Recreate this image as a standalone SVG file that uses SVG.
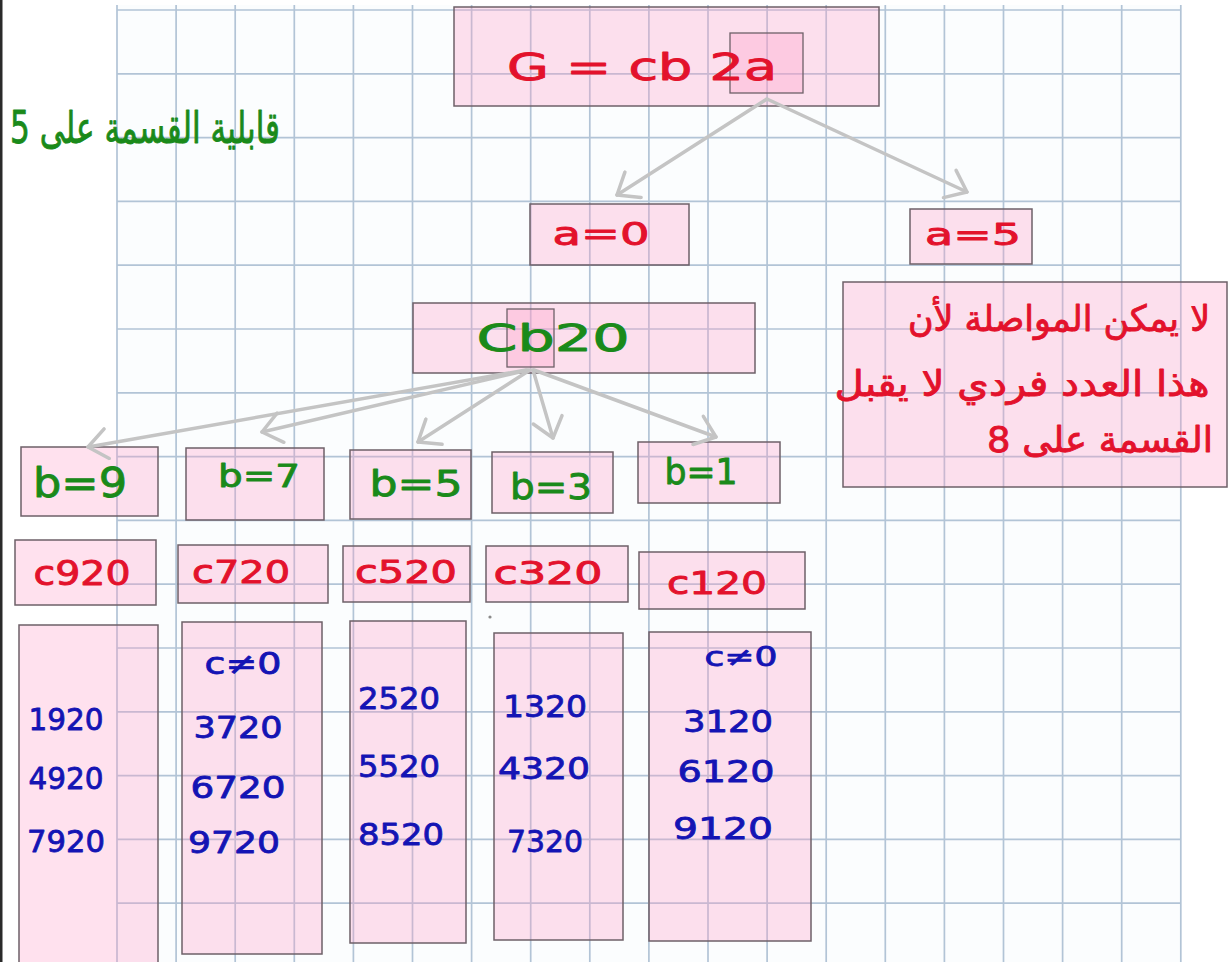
<svg xmlns="http://www.w3.org/2000/svg" width="1230" height="962" viewBox="0 0 1230 962">
  <style>
    .box { fill: #ff9cc6; fill-opacity: 0.3; stroke: #6e6068; stroke-width: 1.5; }
    .inner { fill: #ff9cc6; fill-opacity: 0.3; stroke: #6e6068; stroke-width: 1.3; }
    .grid { stroke: #b2c4d6; stroke-width: 1.7; fill: none; }
    .link { stroke: #c4c4c4; stroke-width: 3.5; fill: none; stroke-linecap: round; marker-end: url(#head); }
    text { font-family: "DejaVu Sans", "Liberation Sans", sans-serif; text-anchor: middle; stroke-linejoin: round; }
    .red { fill: #e3122c; stroke: #e3122c; stroke-width: 0.9; }
    .green { fill: #1a8a1a; stroke: #1a8a1a; stroke-width: 0.9; }
    .blue { fill: #1414b4; stroke: #1414b4; stroke-width: 0.8; }
    .ar { font-family: "DejaVu Sans", sans-serif; }
  </style>
  <defs>
    <marker id="head" markerUnits="userSpaceOnUse" viewBox="-24 -17 28 34" markerWidth="28" markerHeight="34" refX="0" refY="0" orient="auto">
      <path d="M-19,-15 L0,0 L-19,15" fill="none" stroke="#c4c4c4" stroke-width="3.5" stroke-linecap="round" stroke-linejoin="round"/>
    </marker>
  </defs>

  <!-- page -->
  <rect x="0" y="0" width="1230" height="962" fill="#ffffff"/>
  <rect x="0" y="0" width="2.5" height="962" fill="#2a2a2a"/>
  <rect x="117" y="5" width="1064" height="957" fill="#fbfdfe"/>

  <!-- squared paper -->
  <path class="grid" d="M117 5V962M176.1 5V962M235.2 5V962M294.3 5V962M353.4 5V962M412.5 5V962M471.6 5V962M530.7 5V962M589.8 5V962M648.9 5V962M708 5V962M767.1 5V962M826.2 5V962M885.3 5V962M944.4 5V962M1003.5 5V962M1062.6 5V962M1121.7 5V962M1180.8 5V962"/>
  <path class="grid" d="M117 10H1181M117 73.8H1181M117 137.6H1181M117 201.4H1181M117 265.2H1181M117 329H1181M117 392.8H1181M117 456.6H1181M117 520.4H1181M117 584.2H1181M117 648H1181M117 711.8H1181M117 775.6H1181M117 839.4H1181M117 903.2H1181"/>

  <!-- heading -->
  <g id="title">
    <text class="green ar" x="145" y="143" font-size="44" textLength="270" lengthAdjust="spacingAndGlyphs" direction="rtl">قابلية القسمة على 5</text>
  </g>

  <!-- tree nodes -->
  <g id="root">
    <rect class="box" x="454" y="7" width="425" height="99"/>
    <rect class="inner" x="730" y="33" width="73" height="60"/>
    <text class="red" x="642" y="80" font-size="38" textLength="270" lengthAdjust="spacingAndGlyphs">G = cb 2a</text>
  </g>

  <g id="a0">
    <rect class="box" x="530" y="204" width="159" height="61"/>
    <text class="red" x="601" y="245" font-size="32" textLength="97" lengthAdjust="spacingAndGlyphs">a=0</text>
  </g>

  <g id="a5">
    <rect class="box" x="910" y="209" width="122" height="55"/>
    <text class="red" x="973" y="245" font-size="30" textLength="96" lengthAdjust="spacingAndGlyphs">a=5</text>
  </g>

  <g id="note">
    <rect class="box" x="843" y="282" width="384" height="205"/>
    <text class="red ar" x="1059" y="331" font-size="36" textLength="302" lengthAdjust="spacingAndGlyphs" direction="rtl">لا يمكن المواصلة لأن</text>
    <text class="red ar" x="1022" y="396" font-size="36" textLength="375" lengthAdjust="spacingAndGlyphs" direction="rtl">هذا العدد فردي لا يقبل</text>
    <text class="red ar" x="1100" y="452" font-size="36" textLength="226" lengthAdjust="spacingAndGlyphs" direction="rtl">القسمة على 8</text>
  </g>

  <g id="cb20">
    <rect class="box" x="413" y="303" width="342" height="70"/>
    <rect class="inner" x="507" y="309" width="47" height="58"/>
    <text class="green" x="553" y="351" font-size="38" textLength="153" lengthAdjust="spacingAndGlyphs">Cb20</text>
  </g>

  <g id="b9">
    <rect class="box" x="21" y="447" width="137" height="69"/>
    <text class="green" x="80" y="497" font-size="40" textLength="94" lengthAdjust="spacingAndGlyphs">b=9</text>
  </g>
  <g id="b7">
    <rect class="box" x="186" y="448" width="138" height="72"/>
    <text class="green" x="259" y="487" font-size="32" textLength="82" lengthAdjust="spacingAndGlyphs">b=7</text>
  </g>
  <g id="b5">
    <rect class="box" x="350" y="450" width="121" height="69"/>
    <text class="green" x="416" y="496" font-size="36" textLength="93" lengthAdjust="spacingAndGlyphs">b=5</text>
  </g>
  <g id="b3">
    <rect class="box" x="492" y="452" width="121" height="61"/>
    <text class="green" x="551" y="499" font-size="36" textLength="82" lengthAdjust="spacingAndGlyphs">b=3</text>
  </g>
  <g id="b1">
    <rect class="box" x="638" y="442" width="142" height="61"/>
    <text class="green" x="701" y="484" font-size="36" textLength="73" lengthAdjust="spacingAndGlyphs">b=1</text>
  </g>

  <g id="c920">
    <rect class="box" x="15" y="540" width="141" height="65"/>
    <text class="red" x="82" y="585" font-size="34" textLength="97" lengthAdjust="spacingAndGlyphs">c920</text>
  </g>
  <g id="c720">
    <rect class="box" x="178" y="545" width="150" height="58"/>
    <text class="red" x="241" y="583" font-size="32" textLength="98" lengthAdjust="spacingAndGlyphs">c720</text>
  </g>
  <g id="c520">
    <rect class="box" x="343" y="546" width="127" height="56"/>
    <text class="red" x="406" y="583" font-size="32" textLength="102" lengthAdjust="spacingAndGlyphs">c520</text>
  </g>
  <g id="c320">
    <rect class="box" x="486" y="546" width="142" height="56"/>
    <text class="red" x="548" y="584" font-size="32" textLength="109" lengthAdjust="spacingAndGlyphs">c320</text>
  </g>
  <g id="c120">
    <rect class="box" x="639" y="552" width="166" height="57"/>
    <text class="red" x="717" y="594" font-size="32" textLength="100" lengthAdjust="spacingAndGlyphs">c120</text>
  </g>

  <g id="list9">
    <rect class="box" x="19" y="625" width="139" height="340"/>
    <text class="blue" x="66" y="730" font-size="30" textLength="75" lengthAdjust="spacingAndGlyphs">1920</text>
    <text class="blue" x="66" y="789" font-size="30" textLength="75" lengthAdjust="spacingAndGlyphs">4920</text>
    <text class="blue" x="66" y="852" font-size="30" textLength="78" lengthAdjust="spacingAndGlyphs">7920</text>
  </g>
  <g id="list7">
    <rect class="box" x="182" y="622" width="140" height="332"/>
    <text class="blue" x="243" y="674" font-size="30" textLength="77" lengthAdjust="spacingAndGlyphs">c≠0</text>
    <text class="blue" x="238" y="738" font-size="30" textLength="89" lengthAdjust="spacingAndGlyphs">3720</text>
    <text class="blue" x="238" y="798" font-size="30" textLength="95" lengthAdjust="spacingAndGlyphs">6720</text>
    <text class="blue" x="234" y="853" font-size="30" textLength="92" lengthAdjust="spacingAndGlyphs">9720</text>
  </g>
  <g id="list5">
    <rect class="box" x="350" y="621" width="116" height="322"/>
    <text class="blue" x="399" y="709" font-size="30" textLength="82" lengthAdjust="spacingAndGlyphs">2520</text>
    <text class="blue" x="399" y="777" font-size="30" textLength="82" lengthAdjust="spacingAndGlyphs">5520</text>
    <text class="blue" x="401" y="845" font-size="30" textLength="86" lengthAdjust="spacingAndGlyphs">8520</text>
  </g>
  <g id="list3">
    <rect class="box" x="494" y="633" width="129" height="307"/>
    <text class="blue" x="545" y="717" font-size="30" textLength="84" lengthAdjust="spacingAndGlyphs">1320</text>
    <text class="blue" x="544" y="779" font-size="30" textLength="92" lengthAdjust="spacingAndGlyphs">4320</text>
    <text class="blue" x="545" y="852" font-size="30" textLength="76" lengthAdjust="spacingAndGlyphs">7320</text>
  </g>
  <g id="list1">
    <rect class="box" x="649" y="632" width="162" height="309"/>
    <text class="blue" x="741" y="666" font-size="26" textLength="73" lengthAdjust="spacingAndGlyphs">c≠0</text>
    <text class="blue" x="728" y="732" font-size="30" textLength="90" lengthAdjust="spacingAndGlyphs">3120</text>
    <text class="blue" x="726" y="782" font-size="30" textLength="97" lengthAdjust="spacingAndGlyphs">6120</text>
    <text class="blue" x="723" y="839" font-size="30" textLength="100" lengthAdjust="spacingAndGlyphs">9120</text>
  </g>

  <!-- stray pen mark -->
  <circle cx="490" cy="617" r="1.6" fill="#8a8a8a"/>

  <!-- branches -->
  <g id="connectors">
    <path class="link" d="M767 99L617 195"/>
    <path class="link" d="M767 99L967 192"/>
    <path class="link" d="M526 370L88 447"/>
    <path class="link" d="M528 370L262 432"/>
    <path class="link" d="M530 370L418 442"/>
    <path class="link" d="M533 370L553 438"/>
    <path class="link" d="M534 370L716 437"/>
  </g>
</svg>
